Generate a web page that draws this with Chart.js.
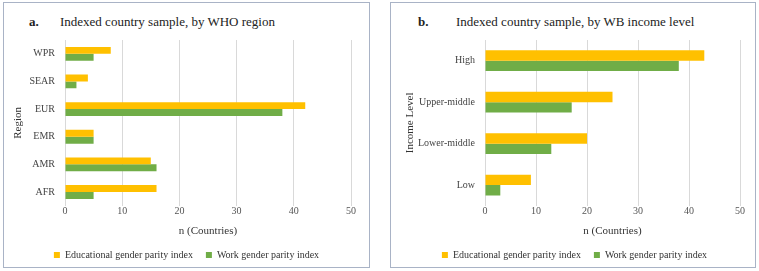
<!DOCTYPE html>
<html>
<head>
<meta charset="utf-8">
<script src="https://cdn.jsdelivr.net/npm/chart.js@4"></script>
<style>
  body { margin: 0; background: #fff; width: 759px; height: 271px; position: relative; font-family: "Liberation Serif", "Times New Roman", serif; }
  .panel { position: absolute; top: 2px; height: 264px; border: 1px solid #a9b3c6; background: #fff; overflow: hidden; }
  .panel canvas { position: absolute; left: 0; top: 0; }
  .ttl { position: absolute; top: 11px; font-size: 13px; color: #222; white-space: nowrap; }
  .ttl b { position: absolute; left: 0; }
</style>
</head>
<body>
<div class="panel" id="pa" style="left:3px; width:365px;">
  <div class="ttl" style="left:25px;"><b>a.</b><span style="margin-left:31px;">Indexed country sample, by WHO region</span></div>
  <canvas id="chartA" width="365" height="264"></canvas>
</div>
<div class="panel" id="pb" style="left:390px; width:364px;">
  <div class="ttl" style="left:27px;"><b>b.</b><span style="margin-left:38px;">Indexed country sample, by WB income level</span></div>
  <canvas id="chartB" width="364" height="264"></canvas>
</div>
<script>
// panel a: WHO regions (top to bottom)
const regions = ['WPR', 'SEAR', 'EUR', 'EMR', 'AMR', 'AFR'];
const regionEdu = [8, 4, 42, 5, 15, 16];
const regionWork = [5, 2, 38, 5, 16, 5];

// panel b: WB income levels (top to bottom)
const incomes = ['High', 'Upper-middle', 'Lower-middle', 'Low'];
const incomeEdu = [43, 25, 20, 9];
const incomeWork = [38, 17, 13, 3];

const seriesNames = ['Educational gender parity index', 'Work gender parity index'];
const xTicks = [0, 10, 20, 30, 40, 50];

const serif = "'Liberation Serif', 'Times New Roman', serif";

// moves the legend after layout so its spacing can differ from its placement
const legendNudge = {
    id: 'legendNudge',
    afterLayout(chart, args, opts) {
        const lg = chart.legend;
        lg.left += opts.dx;
        lg.right += opts.dx;
        lg.top += opts.dy;
        lg.bottom += opts.dy;
    }
};

function makeChart(id, labels, edu, work, yTitle, yWidth, titlePad, rightPad) {
    const ctx = document.getElementById(id).getContext('2d');
    return new Chart(ctx, {
        type: 'bar',
        data: {
            labels: labels,
            datasets: [{
                label: seriesNames[0],
                data: edu,
                backgroundColor: '#FFC000',
                categoryPercentage: 0.5,
                barPercentage: 1.0
            }, {
                label: seriesNames[1],
                data: work,
                backgroundColor: '#70AD47',
                categoryPercentage: 0.5,
                barPercentage: 1.0
            }]
        },
        plugins: [legendNudge],
        options: {
            indexAxis: 'y',
            responsive: false,
            animation: false,
            layout: { padding: { top: 37, right: rightPad, left: 4, bottom: -16 } },
            plugins: {
                legend: {
                    position: 'bottom',
                    labels: {
                        boxWidth: 6,
                        boxHeight: 6,
                        padding: 13,
                        color: '#333',
                        font: { family: serif, size: 10 }
                    }
                },
                legendNudge: { dx: 7, dy: -13 },
                tooltip: { enabled: false }
            },
            scales: {
                x: {
                    min: 0,
                    max: 50,
                    afterBuildTicks: function(scale) {
                        scale.ticks = xTicks.map(v => ({ value: v }));
                    },
                    grid: { color: '#d9d9d9', drawTicks: false },
                    border: { display: false },
                    ticks: { color: '#555', padding: 0, font: { family: serif, size: 10 } },
                    title: {
                        display: true,
                        text: 'n (Countries)',
                        color: '#333',
                        font: { family: serif, size: 11 },
                        padding: { top: 7, bottom: 12 }
                    }
                },
                y: {
                    grid: { display: false },
                    border: { display: false },
                    ticks: { color: '#444', padding: 2, font: { family: serif, size: 10 } },
                    title: {
                        display: true,
                        text: yTitle,
                        color: '#333',
                        font: { family: serif, size: 11 },
                        padding: { top: titlePad, bottom: 0 }
                    },
                    afterFit: function(scale) {
                        scale.width = yWidth;
                    }
                }
            }
        }
    });
}

makeChart('chartA', regions, regionEdu, regionWork, 'Region', 57, 4, 18);
makeChart('chartB', incomes, incomeEdu, incomeWork, 'Income Level', 90, 9, 15);
</script>
</body>
</html>
